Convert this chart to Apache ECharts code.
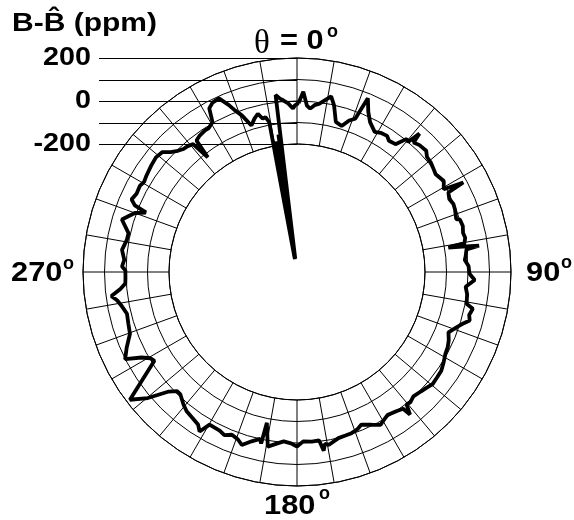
<!DOCTYPE html>
<html>
<head>
<meta charset="utf-8">
<script src="https://cdn.jsdelivr.net/npm/echarts@6/dist/echarts.min.js"></script>
<style>
  html, body { margin: 0; padding: 0; background: #fff; }
  #chart { width: 574px; height: 520px; }
</style>
</head>
<body>
<div id="chart"></div>
<script>
// measurement angle theta (deg, clockwise from top)
const angles = [
  0.5, 2, 3.4, 4.6, 6, 7.6, 10, 11, 12.5, 14.5, 17, 19, 20.8, 22.2, 24, 26, 29, 31, 33.5, 35,
  37.6, 39.5, 40.5, 41.5, 42, 44, 46.8, 48.5, 50.7, 52.5, 54.8, 58.2, 60.6, 61.7, 62.3, 64.4, 66.5, 68.4, 71.6, 72.2,
  74.5, 76.8, 78.5, 80.2, 80.8, 81.4, 81.8, 82.4, 84.8, 85.9, 88, 90.6, 92.6, 95, 97.5, 100.6, 101.8, 104, 105.7, 107.5,
  109, 111.7, 114.3, 116.5, 118.9, 121.5, 124.4, 127, 129.6, 132, 134, 136.9, 139, 140.4, 141.6, 142.2, 144.5, 147.7, 150, 151.3,
  154, 157.1, 159, 161.3, 163.5, 166, 169.5, 170.8, 171.5, 172.5, 175, 177.9, 180, 182, 184.5, 187, 189.5, 191.3, 191.8, 192.5,
  195, 197.7, 199.5, 201.8, 204, 206, 209.8, 211.4, 213, 215.5, 218.4, 220.6, 223.6, 225.2, 227, 229, 229.8, 232.6, 238.1, 239.5,
  241.2, 243.1, 246.1, 249.7, 253, 256.2, 259, 261.1, 262.6, 264.5, 266.2, 268, 270.6, 271.8, 274, 277.2, 280.7, 283, 286.7, 288.3,
  290, 291.5, 292.3, 293.7, 296, 298.7, 300.5, 302.6, 304.5, 306.1, 309.1, 311.7, 313.5, 315.5, 317.3, 319, 320.9, 322.1, 322.6, 324.5,
  327, 328.5, 330.6, 331.8, 333.5, 335.8, 337.8, 339, 340.6, 342.7, 344.5, 346.1, 347.4, 348.5, 349.5,
  350.4, 350.8, 351.2, 351.6, 352, 352.3, 352.6,
  353.1, 354.4, 355.4, 357, 358.6, 359.3, 360.5
];
// B - B^ (ppm)
const deviation = [
  -10, 44, -20, -33, -15, -5, 24, 37, 0, -74, -85, -50, -33, 77, 20, -20, -50, -40, -36, -50,
  -45, 7, 0, 64, 15, 25, 29, 12, 9, 2, -6, 8, -12, 83, 0, -10, -2, -5, -15, 1,
  5, -2, 3, -5, -82, 0, 60, 0, -8, -13, 3, 7, 32, -8, 3, 7, 40, 30, 39, 10,
  -9, -37, -21, -12, -7, 5, 18, 20, 23, 12, 5, -3, 8, 4, 51, 10, 0, -8, 5, 15,
  -5, -25, -12, -4, -2, 1, 22, 15, 45, -5, -3, -7, 17, 2, -5, 10, 28, -80, 20, 0,
  20, 49, 30, 20, 35, 25, 23, 74, 50, 40, 31, 16, -9, -9, 20, 84, 113, 183, -14, -5,
  30, 101, 71, 33, 25, 19, 35, 52, 75, 30, 5, 3, 3, 19, 10, 25, 10, 9, 55, 31,
  7, -40, 20, 45, 35, 38, 30, 36, 40, 44, 50, 43, 15, -5, -17, -20, -29, -120, -26, -16,
  -10, -10, 5, 68, 85, 90, 43, 10, -23, -82, -55, -37, -65, -60, -87,
  -730, -180, -735, -220, -735, -150, -732,
  34, 15, 6, -10, -35, -20, -10
];
const radiusTicks = [200, 100, 0, -100, -200];
const radiusTickLabels = ['200', '', '0', '', '-200'];

const ink = '#000';
const sans = '"Liberation Sans", Arial, sans-serif';

const center = [297, 272];
const rInner = 128;
const rOuter = 214;
// the data polar runs down to the centre, so the value at r = 0 follows from the grid ring spacing
const centreValue = -200 - rInner * 400 / (rOuter - rInner);

const chart = echarts.init(document.getElementById('chart'));

chart.setOption({
  animation: false,
  polar: [
    { center: center, radius: [rInner, rOuter] },
    { center: center, radius: [0, rOuter] }
  ],
  angleAxis: [
    {
      polarIndex: 0,
      type: 'value',
      min: 0,
      max: 360,
      interval: 10,
      startAngle: 90,
      clockwise: true,
      axisLine: { lineStyle: { color: ink, width: 1 } },
      axisTick: { show: false },
      axisLabel: { show: false },
      splitLine: { lineStyle: { color: ink, width: 1 } }
    },
    {
      polarIndex: 1,
      type: 'value',
      min: 0,
      max: 360,
      startAngle: 90,
      clockwise: true,
      show: false
    }
  ],
  radiusAxis: [
    {
      polarIndex: 0,
      type: 'value',
      min: -200,
      max: 200,
      interval: 100,
      axisLine: { show: false },
      axisTick: { show: false },
      axisLabel: { show: false },
      splitLine: { lineStyle: { color: ink, width: 1 } }
    },
    {
      polarIndex: 1,
      type: 'value',
      min: centreValue,
      max: 200,
      show: false
    }
  ],
  series: [
    {
      type: 'line',
      coordinateSystem: 'polar',
      polarIndex: 1,
      data: angles.map((a, i) => [deviation[i], a]),
      symbol: 'none',
      clip: false,
      z: 5,
      lineStyle: { color: ink, width: 3.8 }
    }
  ]
});

// leader lines + ppm labels at the top of each ring
const graphics = [];
radiusTicks.forEach((v, i) => {
  const p = chart.convertToPixel({ polarIndex: 0 }, [v, 0]);
  const y = Math.round(p[1]) + 0.5;
  graphics.push({
    type: 'line',
    shape: { x1: 99, y1: y, x2: p[0], y2: y },
    style: { stroke: ink, lineWidth: 1 }
  });
  if (radiusTickLabels[i]) {
    graphics.push({
      type: 'text', x: 91, y: p[1], scaleX: 1.15,
      style: { text: radiusTickLabels[i], font: 'bold 25px ' + sans, fill: ink, align: 'right', verticalAlign: 'middle' }
    });
  }
});

const txt = (x, y, text, font, align, sx) => ({
  type: 'text', x: x, y: y, scaleX: sx || 1.1,
  style: { text: text, font: font, fill: ink, align: align || 'left', verticalAlign: 'middle' }
});
const big = 'bold 28px ' + sans;
const deg = 'bold 18px ' + sans;

graphics.push(
  txt(12, 24, 'B-B\u0302 (ppm)', 'bold 25px ' + sans, 'left', 1.2),
  txt(254, 44, '\u03b8', '33px "Liberation Serif", serif', 'left', 1),
  txt(280, 41, '= 0', big),
  txt(327, 32, 'o', deg, 'left', 1),
  txt(526, 273, '90', big),
  txt(561, 263, 'o', deg, 'left', 1),
  txt(264, 506, '180', big),
  txt(319, 494, 'o', deg, 'left', 1),
  txt(11, 273, '270', big),
  txt(63, 264, 'o', deg, 'left', 1)
);

chart.setOption({ graphic: graphics });
</script>
</body>
</html>
